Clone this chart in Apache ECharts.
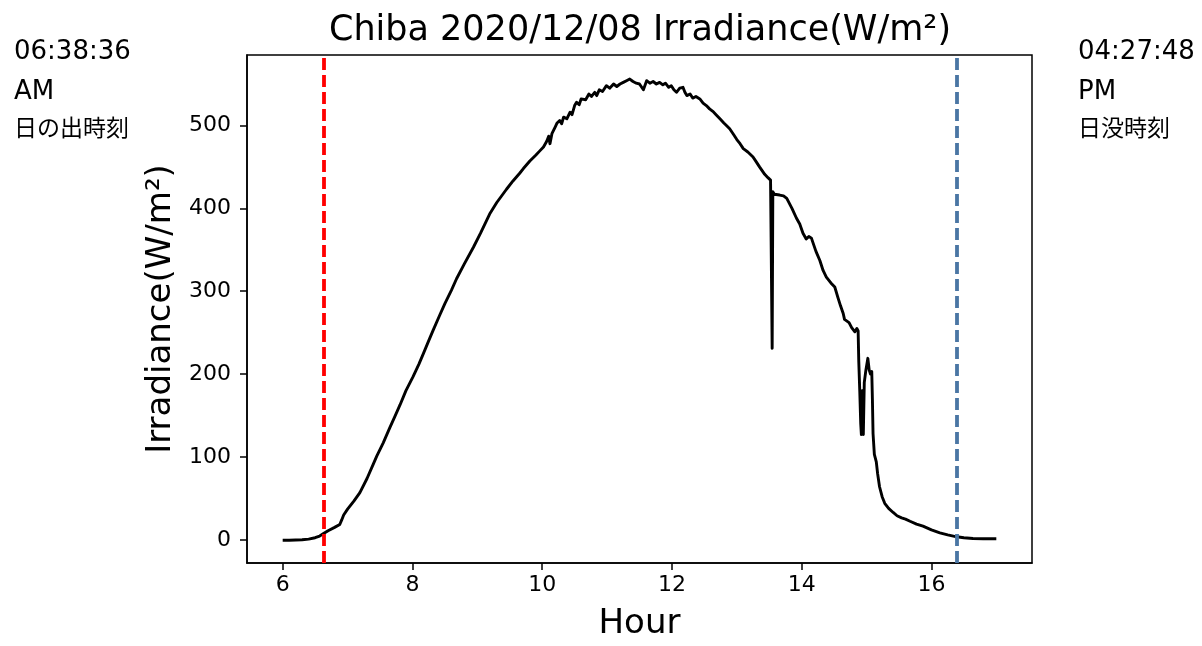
<!DOCTYPE html>
<html>
<head>
<meta charset="utf-8">
<title>Chiba 2020/12/08 Irradiance</title>
<script src="https://cdn.jsdelivr.net/npm/echarts@6/dist/echarts.min.js"></script>
<style>
  html, body { margin: 0; padding: 0; background: #fff; }
  #chart { width: 1202px; height: 646px; }
</style>
</head>
<body>
<div id="chart"></div>
<script>
// 時刻 (hour) と日射量 (W/m2) ...
var hours = [
  6.00, 6.10, 6.20, 6.30, 6.40, 6.50, 6.57, 6.63, 6.70, 6.80,
  6.88, 6.91, 6.94, 7.00, 7.10, 7.19, 7.30, 7.40, 7.45, 7.55,
  7.65, 7.73, 7.81, 7.90, 8.01, 8.10, 8.17, 8.25, 8.32, 8.42,
  8.50, 8.60, 8.68, 8.80, 8.94, 9.05, 9.19, 9.30, 9.45, 9.55,
  9.65, 9.71, 9.81, 9.90, 9.96, 10.02, 10.07, 10.10, 10.12, 10.15,
  10.20, 10.23, 10.27, 10.30, 10.33, 10.38, 10.43, 10.46, 10.50, 10.53,
  10.57, 10.60, 10.63, 10.67, 10.72, 10.76, 10.81, 10.84, 10.88, 10.93,
  10.99, 11.04, 11.10, 11.15, 11.20, 11.25, 11.30, 11.35, 11.40, 11.45,
  11.50, 11.56, 11.61, 11.66, 11.71, 11.76, 11.81, 11.86, 11.90, 11.95,
  11.99, 12.03, 12.07, 12.12, 12.17, 12.20, 12.23, 12.28, 12.32, 12.37,
  12.43, 12.48, 12.53, 12.58, 12.63, 12.68, 12.74, 12.80, 12.84, 12.89,
  12.95, 13.00, 13.05, 13.10, 13.17, 13.25, 13.30, 13.35, 13.43, 13.48,
  13.52, 13.54, 13.545, 13.555, 13.58, 13.66, 13.72, 13.77, 13.85, 13.92,
  13.97, 14.02, 14.07, 14.11, 14.15, 14.22, 14.28, 14.33, 14.38, 14.45,
  14.51, 14.56, 14.60, 14.64, 14.66, 14.69, 14.73, 14.77, 14.82, 14.85,
  14.87, 14.88, 14.895, 14.91, 14.92, 14.935, 14.95, 14.965, 14.99, 15.02,
  15.04, 15.06, 15.08, 15.09, 15.10, 15.12, 15.15, 15.17, 15.20, 15.24,
  15.28, 15.34, 15.41, 15.47, 15.54, 15.60, 15.67, 15.77, 15.87, 16.00,
  16.13, 16.25, 16.39, 16.50, 16.64, 16.80, 17.00
];
var irradiance = [
  -0.5, -0.5, -0.3, 0, 0.8, 2.5, 4.5, 7.5, 11, 15,
  18.5, 24, 30, 37, 47, 57, 74, 92, 101, 117,
  135, 149, 163, 180, 197, 212, 225, 240, 253, 271,
  285, 301, 315, 333, 353, 370, 393, 407, 423, 433,
  442, 448, 457, 464, 469, 474, 481, 487, 478, 490,
  498, 503, 506, 502, 510, 508, 516, 513, 524, 528,
  525, 532, 534, 531, 538, 535, 540, 536, 543, 541,
  548, 545, 550, 547, 550, 552, 554, 556, 553, 551,
  550, 543, 554, 551, 553, 550, 552, 549, 551, 546,
  548, 543, 540, 545, 546, 540, 536, 538, 533, 535,
  532, 527, 524, 520, 517, 513, 508, 503, 500, 496,
  489, 483, 478, 472, 468, 462, 456, 450, 441, 437,
  434, 432, 231, 420, 417, 416, 415, 412, 400, 388,
  381, 370, 363, 366, 364, 348, 337, 325, 317, 310,
  305, 292, 282, 273, 266, 266, 262, 256, 251, 255,
  252, 215, 180, 140, 127, 180, 127, 190, 205, 219,
  205, 200, 203, 170, 128, 103, 94, 80, 64, 52,
  44, 38, 33, 29, 26.5, 25, 22.4, 19, 16.4, 12,
  8.4, 6, 3.6, 2.5, 1.6, 1.2, 1.2
];
var xTicks = [6, 8, 10, 12, 14, 16];
var yTicks = [0, 100, 200, 300, 400, 500];
var sunrise = 6.643;   // 06:38:36
var sunset = 16.39;    // 04:27:48 PM (drawn position)

var seriesData = [];
for (var i = 0; i < hours.length; i++) {
    seriesData.push([hours[i], irradiance[i]]);
}

var font = 'DejaVu Sans, "Noto Sans CJK JP", sans-serif';
var myChart = echarts.init(document.getElementById('chart'));

var option = {
    animation: false,
    backgroundColor: '#fff',
    textStyle: { fontFamily: font },
    grid: {
        left: 247, right: 170, top: 55, bottom: 83,
        show: true,
        borderColor: '#000',
        borderWidth: 1.5,
        backgroundColor: 'transparent'
    },
    xAxis: {
        type: 'value',
        min: 5.45,
        max: 17.55,
        name: 'Hour',
        nameLocation: 'middle',
        nameGap: 44,
        nameTextStyle: { fontSize: 34, color: '#000', fontFamily: font },
        axisLine: { show: true, onZero: false, lineStyle: { color: '#000', width: 1.5 } },
        axisTick: { show: true, length: 7, lineStyle: { color: '#000', width: 1.5 }, customValues: xTicks },
        axisLabel: { color: '#000', fontSize: 22, margin: 11, customValues: xTicks },
        splitLine: { show: false }
    },
    yAxis: {
        type: 'value',
        min: -28,
        max: 585,
        name: 'Irradiance(W/m²)',
        nameLocation: 'middle',
        nameGap: 54,
        nameTextStyle: { fontSize: 34, color: '#000', fontFamily: font },
        axisLine: { show: true, onZero: false, lineStyle: { color: '#000', width: 1.5 } },
        axisTick: { show: true, length: 7, lineStyle: { color: '#000', width: 1.5 }, customValues: yTicks },
        axisLabel: { color: '#000', fontSize: 22, margin: 16, customValues: yTicks },
        splitLine: { show: false }
    },
    series: [
        {
            name: 'Irradiance',
            type: 'line',
            data: seriesData,
            showSymbol: false,
            symbol: 'none',
            lineStyle: { color: '#000', width: 2.9, join: 'round' },
            z: 3,
            markLine: {
                silent: true,
                symbol: ['none', 'none'],
                label: { show: false },
                data: [
                    { xAxis: sunrise, lineStyle: { color: '#ff0000', width: 3.8, type: [12, 5] } },
                    { xAxis: sunset, lineStyle: { color: '#4a76a4', width: 3.8, type: [12, 5] } }
                ]
            }
        }
    ],
    graphic: [
        { type: 'text', x: 640, y: 31, style: { text: 'Chiba 2020/12/08 Irradiance(W/m²)', font: '35px ' + font, fill: '#000', textAlign: 'center', textVerticalAlign: 'middle' } },
        { type: 'text', x: 14, y: 52, style: { text: '06:38:36', font: '26px ' + font, fill: '#000', textVerticalAlign: 'middle' } },
        { type: 'text', x: 14, y: 92, style: { text: 'AM', font: '26px ' + font, fill: '#000', textVerticalAlign: 'middle' } },
        { type: 'text', x: 14, y: 127, style: { text: '日の出時刻', font: '23px "Noto Sans CJK JP", sans-serif', fill: '#000', textVerticalAlign: 'middle' } },
        { type: 'text', x: 1078, y: 52, style: { text: '04:27:48', font: '26px ' + font, fill: '#000', textVerticalAlign: 'middle' } },
        { type: 'text', x: 1078, y: 92, style: { text: 'PM', font: '26px ' + font, fill: '#000', textVerticalAlign: 'middle' } },
        { type: 'text', x: 1078, y: 127, style: { text: '日没時刻', font: '23px "Noto Sans CJK JP", sans-serif', fill: '#000', textVerticalAlign: 'middle' } }
    ]
};
myChart.setOption(option);
</script>
</body>
</html>
